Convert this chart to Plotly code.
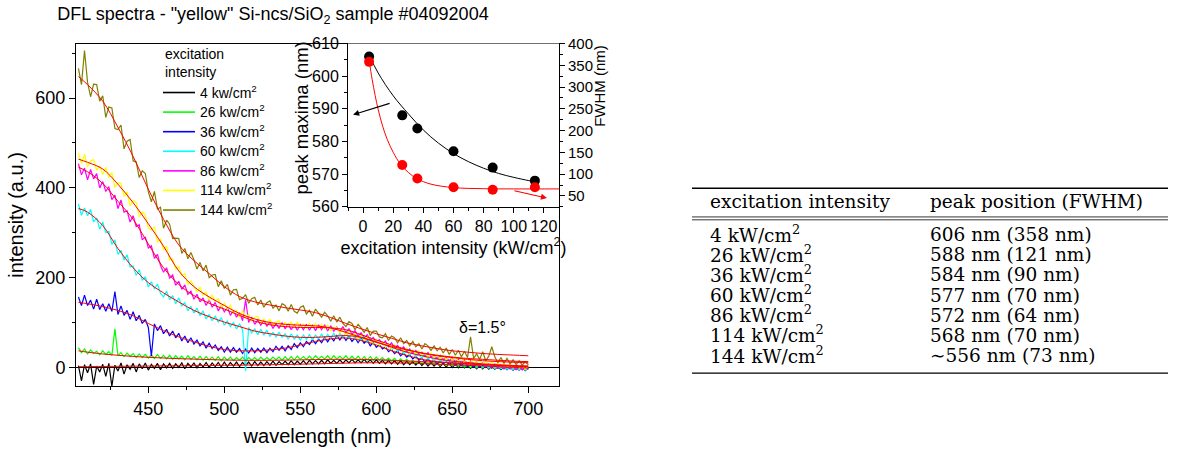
import plotly.graph_objects as go

W, H = 1196, 450

# ---------------------------------------------------------------- data
intensity = [4, 26, 36, 60, 86, 114, 144]          # kW/cm^2
peak_nm = [606, 588, 584, 577, 572, 568, 556]       # peak position
fwhm_nm = [358, 121, 90, 70, 64, 70, 73]            # FWHM
peak_approx = [False, False, False, False, False, False, True]
colors = ["#000000", "#00ff00", "#0000ff", "#00ffff", "#ff00ff", "#ffff00", "#808000"]

# spectra sampled every 2 nm, 404 .. 700 nm (149 samples)
wavelength = list(range(404, 701, 2))

spec_4 = [4, -30, 6, -12, 8, -38, 3, -10, 7, -20,
          9, -42, 5, -8, 10, -15, 6, -4, 9, -10,
          8, -3, 10, -6, 7, -2, 9, -5, 8, -1,
          9, -2, 8, 0, 10, -3, 9, 1, 10, -1,
          9, 1, 11, 0, 10, 2, 11, 1, 12, 2,
          11, 3, 12, 2, 11, 4, 12, 3, 13, 4,
          12, 4, 13, 5, 14, 5, 13, 6, 14, 6,
          15, 6, 14, 7, 15, 7, 16, 8, 15, 8,
          16, 8, 17, 9, 16, 9, 17, 9, 17, 10,
          18, 10, 17, 10, 18, 10, 17, 9, 17, 9,
          16, 8, 16, 8, 15, 7, 15, 6, 14, 6,
          13, 5, 13, 4, 12, 3, 11, 3, 10, 2,
          9, 1, 9, 0, 8, -1, 7, -1, 6, -2,
          5, -3, 5, -3, 4, -4, 3, -4, 2, -5,
          2, -5, 1, -6, 0, -6, 0, -7, -1]
spec_26 = [44, 33, 41, 30, 39, 31, 36, 28, 37, 29,
           35, 27, 86, 26, 33, 24, 32, 25, 31, 22,
           30, 22, 29, 21, 28, 20, 29, 20, 27, 19,
           27, 18, 26, 19, 25, 17, 26, 18, 24, 17,
           25, 16, 24, 17, 23, 16, 24, 15, 23, 16,
           23, 15, 22, 16, 23, 15, 22, 16, 22, 15,
           23, 16, 22, 16, 23, 17, 23, 16, 24, 17,
           24, 17, 25, 18, 24, 18, 25, 18, 26, 19,
           25, 19, 26, 18, 26, 19, 25, 19, 26, 18,
           25, 18, 25, 17, 24, 17, 24, 16, 23, 16,
           22, 15, 21, 14, 20, 13, 19, 12, 18, 11,
           16, 10, 15, 9, 14, 8, 12, 7, 11, 5,
           10, 4, 9, 3, 8, 2, 7, 1, 6, 0,
           5, -1, 4, -1, 4, -2, 3, -2, 2, -3,
           2, -3, 1, -4, 1, -4, 0, -5, -1]
spec_36 = [157, 138, 161, 138, 150, 130, 152, 129, 142, 125,
           142, 125, 169, 118, 137, 116, 127, 107, 124, 104,
           116, 98, 107, 89, 25, 97, 82, 93, 75, 85,
           70, 81, 66, 76, 59, 70, 55, 66, 52, 61,
           48, 57, 43, 54, 42, 50, 38, 46, 34, 45,
           34, 44, 34, 42, 31, 41, 32, 43, 33, 42,
           34, 43, 33, 43, 35, 47, 38, 47, 37, 48,
           40, 53, 44, 55, 46, 58, 51, 62, 53, 63,
           55, 67, 57, 68, 59, 71, 61, 71, 60, 69,
           58, 66, 55, 65, 54, 61, 48, 56, 45, 51,
           41, 46, 35, 40, 31, 37, 26, 32, 23, 28,
           19, 25, 16, 21, 12, 19, 11, 16, 8, 14,
           8, 13, 6, 12, 5, 10, 4, 9, 2, 7,
           1, 7, 1, 5, 0, 4, -2, 4, -2, 2,
           -3, 1, -3, 0, -4, 0, -5, -1, -4]
spec_60 = [364, 339, 355, 338, 352, 324, 333, 308, 324, 300,
           303, 274, 284, 252, 261, 239, 251, 224, 226, 205,
           218, 194, 202, 179, 191, 175, 186, 165, 157, 170,
           151, 160, 142, 155, 137, 145, 126, 136, 121, 132,
           115, 126, 108, 118, 104, 114, 101, 111, 94, 103,
           91, 100, 86, 97, 84, -8, 89, 77, 86, 73,
           85, 72, 83, 69, 78, 68, 78, 67, 75, 63,
           75, 63, 72, 61, 72, 63, 73, 62, 72, 64,
           74, 63, 74, 65, 76, 65, 76, 67, 76, 64,
           75, 63, 72, 60, 70, 57, 65, 52, 60, 49,
           56, 44, 52, 39, 46, 36, 42, 30, 37, 27,
           35, 24, 30, 20, 29, 18, 24, 14, 22, 13,
           20, 11, 17, 8, 16, 7, 14, 5, 12, 4,
           10, 2, 8, 0, 6, -1, 5, -2, 4, -3,
           2, -4, 2, -5, 0, -6, 0, -6, 0]
spec_86 = [454, 429, 444, 418, 441, 420, 432, 400, 414, 392,
           403, 374, 384, 354, 373, 346, 349, 324, 338, 314,
           318, 284, 291, 266, 271, 243, 252, 227, 212, 222,
           199, 206, 183, 192, 174, 184, 163, 170, 152, 163,
           146, 155, 138, 151, 134, 145, 126, 137, 124, 134,
           116, 127, 112, 122, 104, 151, 100, 112, 96, 106,
           94, 105, 92, 101, 87, 98, 87, 100, 86, 97,
           84, 95, 83, 95, 84, 96, 83, 94, 82, 95,
           84, 95, 81, 93, 81, 90, 80, 91, 78, 86,
           74, 82, 70, 77, 64, 73, 60, 67, 56, 62,
           52, 59, 46, 55, 44, 49, 38, 46, 35, 41,
           31, 38, 29, 34, 24, 33, 23, 28, 19, 27,
           16, 24, 14, 23, 11, 19, 9, 17, 7, 15,
           5, 12, 4, 10, 2, 8, 0, 8, -1, 6,
           -3, 4, -3, 3, -5, 1, -5, 1, -4]
spec_114 = [478, 454, 475, 447, 460, 463, 439, 449, 430, 446,
            423, 434, 401, 411, 410, 381, 391, 360, 372, 367,
            336, 346, 340, 311, 306, 313, 280, 286, 262, 270,
            239, 242, 219, 225, 205, 209, 184, 193, 182, 168,
            179, 161, 168, 149, 162, 147, 153, 133, 143, 130,
            138, 121, 127, 112, 127, 110, 119, 103, 112, 114,
            99, 108, 98, 107, 94, 101, 104, 90, 100, 93,
            101, 90, 101, 90, 96, 87, 98, 90, 98, 87,
            96, 86, 95, 82, 89, 89, 77, 84, 72, 81,
            69, 75, 63, 72, 61, 69, 57, 52, 61, 50,
            56, 46, 52, 41, 50, 40, 44, 35, 43, 33,
            39, 29, 37, 27, 33, 23, 32, 22, 29, 19,
            27, 17, 25, 16, 24, 13, 21, 12, 21, 10,
            18, 9, 16, 7, 14, 5, 13, 4, 11, 2,
            9, 1, 7, -1, 5, -2, 4, -4, 3]
spec_144 = [666, 630, 706, 635, 603, 631, 630, 593, 605, 557,
            580, 578, 532, 530, 540, 487, 504, 508, 460, 458,
            423, 438, 432, 391, 369, 392, 353, 357, 310, 328,
            319, 287, 288, 287, 254, 265, 242, 256, 240, 219,
            234, 215, 228, 200, 206, 207, 180, 193, 176, 185,
            161, 173, 174, 151, 154, 162, 143, 153, 156, 139,
            150, 134, 144, 148, 132, 139, 126, 142, 138, 125,
            140, 125, 121, 134, 137, 119, 127, 114, 130, 121,
            112, 123, 115, 103, 115, 101, 112, 98, 91, 102,
            98, 84, 96, 88, 78, 89, 71, 81, 81, 68,
            66, 75, 60, 70, 66, 55, 66, 53, 60, 48,
            58, 46, 53, 41, 53, 48, 38, 48, 37, 45,
            32, 43, 29, 40, 27, 38, 24, 36, 22, 68,
            20, 30, 18, 35, 15, 25, 46, 23, 11, 22,
            9, 20, 8, 17, 6, 15, 5, 13, 6]
spectra = [spec_4, spec_26, spec_36, spec_60, spec_86, spec_114, spec_144]

# fitted curves, every 10 nm
fit_wavelength = [404, 410, 420, 430, 440, 450, 460, 470, 480, 490, 500,
                  510, 520, 530, 540, 550, 560, 570, 580, 590, 600,
                  610, 620, 630, 640, 650, 660, 670, 680, 690, 700]
fit_4 = [1.5, 1.8, 2.2, 2.5, 2.8, 3.1, 3.4, 3.7, 4, 4.3, 4.7,
         5.1, 5.5, 6, 6.5, 7.2, 8, 8.8, 9.6, 10.3, 10.5,
         10.2, 9.5, 8.5, 7.2, 6, 4.6, 3.2, 1.8, 0.2, -1.5]
fit_26 = [37, 34, 30, 27, 24.5, 22.5, 21, 19.5, 18.5, 17.5, 16.5,
          16, 15.7, 15.8, 16.2, 16.8, 17.5, 18, 18, 17.8, 17,
          15.8, 14.5, 13, 11.5, 10, 8, 6.5, 4.5, 3, 1.5]
fit_36 = [145, 142, 135.5, 127, 115, 98, 82, 68, 57, 47, 40,
          37, 37, 39, 43, 50, 58, 63.5, 65.5, 60, 50,
          37, 27, 18, 13, 10, 8, 6.5, 4.5, 3, 1.5]
fit_60 = [354, 346, 316, 265, 222, 189, 166, 146, 127, 113, 101,
          91, 81, 75, 70, 67, 67, 69, 71, 67, 57,
          45, 34, 26, 19, 14, 11, 8, 6, 4.5, 3.5]
fit_86 = [446, 436, 410, 370, 330, 275, 222, 185, 160, 143, 130,
          116, 103, 95, 91, 89, 89, 88, 84, 73, 61,
          50, 40, 32, 26, 22, 18, 15, 13, 11.5, 10.5]
fit_114 = [464, 457, 442, 408, 367, 320, 270, 215, 180, 157, 138,
           120, 108, 100, 96, 94, 92.5, 88, 78, 67, 56,
           47, 39, 32, 27, 23, 20, 18, 16, 14, 13]
fit_144 = [648, 630, 593, 535, 470, 397, 330, 273, 238, 209, 180,
           158, 146, 139, 133, 128, 122, 111, 98, 86, 75,
           65, 55, 48, 42, 37, 34, 31, 29, 27.5, 26]
fits = [fit_4, fit_26, fit_36, fit_60, fit_86, fit_114, fit_144]

# inset: fitted trends of peak maxima and FWHM
peak_fit_x = [4, 10, 20, 30, 40, 50, 60, 70, 80, 90, 100, 110, 114]
peak_fit_y = [606.5, 601, 594, 588.5, 583.5, 579.5, 576.3, 573.8, 571.8, 570.2, 569, 568, 567.6]
fwhm_fit_x = [4, 6, 8, 10, 13, 16, 20, 25, 30, 36, 45, 60, 80, 100, 130]
fwhm_fit_y = [362, 318, 281, 249, 210, 180, 150, 122, 104, 89, 77, 69, 66.5, 66, 66]

# ---------------------------------------------------------------- helpers
FONT = "Liberation Sans, Arial, sans-serif"
SERIF = "DejaVu Serif, serif"


def px(x):
    return x / W


def py(y):
    return 1 - y / H


fig = go.Figure()

# spectra, then fits on top
for spec, col in zip(spectra, colors):
    fig.add_trace(go.Scatter(x=wavelength, y=spec, mode="lines",
                             line=dict(color=col, width=1.2), showlegend=False,
                             xaxis="x", yaxis="y"))
for fit in fits:
    fig.add_trace(go.Scatter(x=fit_wavelength, y=fit, mode="lines",
                             line=dict(color="#ff0000", width=1, shape="spline"),
                             showlegend=False, xaxis="x", yaxis="y"))

# inset
n_in = 6
fig.add_trace(go.Scatter(x=peak_fit_x, y=peak_fit_y, mode="lines",
                         line=dict(color="black", width=1, shape="spline"),
                         showlegend=False, xaxis="x2", yaxis="y2"))
fig.add_trace(go.Scatter(x=intensity[:n_in], y=peak_nm[:n_in], mode="markers",
                         marker=dict(color="black", size=10),
                         showlegend=False, xaxis="x2", yaxis="y2"))
fig.add_trace(go.Scatter(x=fwhm_fit_x, y=fwhm_fit_y, mode="lines",
                         line=dict(color="#ff0000", width=1, shape="spline"),
                         showlegend=False, xaxis="x2", yaxis="y3"))
fig.add_trace(go.Scatter(x=intensity[:n_in], y=fwhm_nm[:n_in], mode="markers",
                         marker=dict(color="#ff0000", size=10),
                         showlegend=False, xaxis="x2", yaxis="y3"))

axis_common = dict(showgrid=False, showline=True, linecolor="black", linewidth=1,
                   ticks="outside", tickcolor="black", ticklen=6, zeroline=False,
                   tickfont=dict(family=FONT, size=18, color="black"))
inset_common = {**axis_common, "tickfont": dict(family=FONT, size=16, color="black"), "ticklen": 5}

main_x = [px(76), px(559)]
main_y = [py(393), py(36)]
inset_x = [px(348), px(559)]
inset_y = [py(206), py(36)]

shapes = []
annotations = []

# legend drawn inside the main panel
annotations.append(dict(text="excitation", x=px(163), y=py(46.7), xref="paper", yref="paper",
                        xanchor="left", yanchor="middle", showarrow=False,
                        font=dict(family=FONT, size=14, color="black")))
annotations.append(dict(text="intensity", x=px(163), y=py(65.5), xref="paper", yref="paper",
                        xanchor="left", yanchor="middle", showarrow=False,
                        font=dict(family=FONT, size=14, color="black")))
for i, (val, col) in enumerate(zip(intensity, colors)):
    yy = 87 + 20.4 * i
    shapes.append(dict(type="line", xref="paper", yref="paper",
                       x0=px(163), x1=px(195), y0=py(yy), y1=py(yy),
                       line=dict(color=col, width=1.6)))
    annotations.append(dict(text=f"{val} kw/cm<sup>2</sup>", x=px(198), y=py(yy - 1),
                            xref="paper", yref="paper", xanchor="left", yanchor="middle",
                            showarrow=False, font=dict(family=FONT, size=14, color="black")))

annotations.append(dict(text="δ=1.5°", x=px(482), y=py(332), xref="paper", yref="paper",
                        xanchor="center", yanchor="middle", showarrow=False,
                        font=dict(family=FONT, size=16, color="black")))

# inset axis titles
annotations.append(dict(text="peak maxima (nm)", x=px(301), y=py(114), xref="paper",
                        yref="paper", xanchor="center", yanchor="middle", showarrow=False,
                        textangle=-90, font=dict(family=FONT, size=18.5, color="black")))
annotations.append(dict(text="FWHM (nm)", x=px(600), y=py(80), xref="paper",
                        yref="paper", xanchor="center", yanchor="middle", showarrow=False,
                        textangle=-90, font=dict(family=FONT, size=15, color="black")))

# inset arrows pointing to the axis each curve belongs to
annotations.append(dict(x=-6.6, y=588.2, ax=18.6, ay=591.8, xref="x2", yref="y2",
                        axref="x2", ayref="y2", text="", showarrow=True,
                        arrowhead=2, arrowsize=1, arrowwidth=1.2, arrowcolor="black"))
annotations.append(dict(x=122, y=45, ax=99.4, ay=62.5, xref="x2", yref="y3",
                        axref="x2", ayref="y3", text="", showarrow=True,
                        arrowhead=2, arrowsize=1, arrowwidth=1.2, arrowcolor="#ff0000"))

# table of peak positions
tx0, tx1 = 692, 1168
shapes.append(dict(type="line", xref="paper", yref="paper", x0=px(tx0), x1=px(tx1),
                   y0=py(186.7), y1=py(186.7), line=dict(color="black", width=1.3)))
for yy in (216.6, 219.6):
    shapes.append(dict(type="line", xref="paper", yref="paper", x0=px(tx0), x1=px(tx1),
                       y0=py(yy), y1=py(yy), line=dict(color="black", width=0.8)))
shapes.append(dict(type="line", xref="paper", yref="paper", x0=px(tx0), x1=px(tx1),
                   y0=py(379.3), y1=py(379.3), line=dict(color="black", width=1.3)))

col1_x, col2_x = 708, 928
tfont = dict(family=SERIF, size=18.5, color="black")
annotations.append(dict(text="excitation intensity", x=px(col1_x), y=py(201), xref="paper",
                        yref="paper", xanchor="left", yanchor="middle", showarrow=False, font=tfont))
annotations.append(dict(text="peak position (FWHM)", x=px(col2_x), y=py(201), xref="paper",
                        yref="paper", xanchor="left", yanchor="middle", showarrow=False, font=tfont))
for i, (val, pk, fw, approx) in enumerate(zip(intensity, peak_nm, fwhm_nm, peak_approx)):
    yy = 234 + 21 * i
    annotations.append(dict(text=f"{val} kW/cm<sup>2</sup>", x=px(col1_x), y=py(yy),
                            xref="paper", yref="paper", xanchor="left", yanchor="middle",
                            showarrow=False, font=tfont))
    pre = "∼" if approx else ""
    annotations.append(dict(text=f"{pre}{pk} nm ({fw} nm)", x=px(col2_x), y=py(yy + 1),
                            xref="paper", yref="paper", xanchor="left", yanchor="middle",
                            showarrow=False, font=tfont))

fig.update_layout(
    width=W, height=H,
    margin=dict(l=0, r=0, t=0, b=0),
    paper_bgcolor="white", plot_bgcolor="white",
    font=dict(family=FONT, color="black"),
    title=dict(text='DFL spectra - "yellow" Si-ncs/SiO<sub>2</sub> sample #04092004',
               x=px(273), xanchor="center", xref="paper",
               y=py(14), yanchor="middle", yref="container",
               font=dict(family=FONT, size=18, color="black")),
    xaxis=dict(domain=main_x, anchor="y", range=[402.4, 720.2],
               tick0=450, dtick=50, mirror=True,
               minor=dict(ticks="outside", ticklen=3, tick0=425, dtick=25, tickcolor="black"),
               title=dict(text="wavelength (nm)", standoff=11,
                          font=dict(family=FONT, size=20, color="black")),
               **axis_common),
    yaxis=dict(domain=main_y, anchor="x", range=[-42, 721.5],
               tick0=0, dtick=200, mirror=True,
               minor=dict(ticks="outside", ticklen=3, tick0=0, dtick=100, tickcolor="black"),
               title=dict(text="intensity (a.u.)", standoff=6,
                          font=dict(family=FONT, size=20, color="black")),
               **{k: v for k, v in axis_common.items() if k != "zeroline"},
               zeroline=True, zerolinecolor="black", zerolinewidth=1),
    xaxis2=dict(domain=inset_x, anchor="y2", range=[-10, 130],
                tick0=0, dtick=20,
                minor=dict(ticks="outside", ticklen=3, tick0=0, dtick=10, tickcolor="black"),
                title=dict(text="excitation intensity (kW/cm<sup>2</sup>)", standoff=6,
                           font=dict(family=FONT, size=18, color="black")),
                **inset_common),
    yaxis2=dict(domain=inset_y, anchor="x2", range=[560, 610],
                tick0=560, dtick=10,
                minor=dict(ticks="outside", ticklen=3, tick0=560, dtick=5, tickcolor="black"),
                **inset_common),
    yaxis3=dict(overlaying="y2", side="right", anchor="x2", range=[25, 400],
                tick0=50, dtick=50,
                minor=dict(ticks="outside", ticklen=3, tick0=25, dtick=25, tickcolor="black"),
                **{**inset_common, "tickfont": dict(family=FONT, size=15, color="black")}),
    shapes=shapes,
    annotations=annotations,
)

fig.write_html("out.html")
